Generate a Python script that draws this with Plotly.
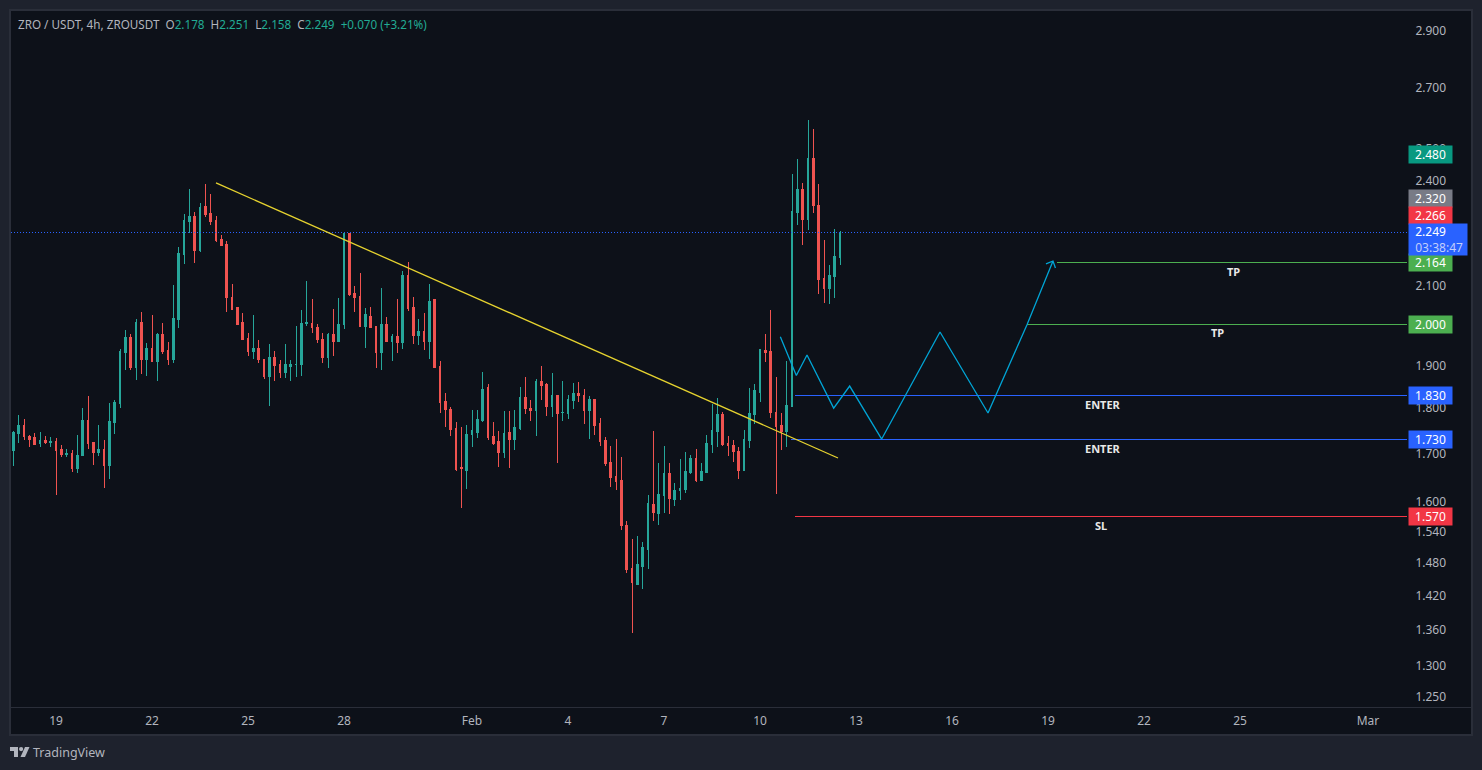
import math
import pandas as pd
import plotly.graph_objects as go

# 4h candles, first one at Jan 17 16:00
first_candle = "2025-01-17 16:00"

opens = [
    1.707, 1.743, 1.762, 1.736, 1.734, 1.721, 1.728, 1.723, 1.725, 1.708,
    1.697, 1.699, 1.667, 1.695, 1.773, 1.723, 1.701, 1.708, 1.675, 1.767,
    1.810, 1.930, 1.968, 1.894, 2.005, 1.915, 1.941, 1.910, 1.975, 1.936,
    1.915, 2.013, 2.187, 2.279, 2.293, 2.198, 2.324, 2.301, 2.282, 2.227,
    2.215, 2.071, 2.043, 2.007, 1.965, 1.933, 1.941, 1.915, 1.873, 1.918,
    1.901, 1.882, 1.898, 1.901, 1.901, 2.004, 2.004, 1.992, 1.964, 1.918,
    1.976, 1.959, 2.000, 2.244, 2.082, 2.074, 1.997, 2.022, 1.995, 1.930,
    2.002, 1.959, 1.971, 1.957, 2.130, 2.043, 1.974, 1.984, 1.959, 2.064,
    1.898, 1.816, 1.798, 1.755, 1.669, 1.663, 1.740, 1.746, 1.773, 1.847,
    1.737, 1.725, 1.701, 1.746, 1.731, 1.755, 1.824, 1.800, 1.794, 1.861,
    1.854, 1.804, 1.828, 1.789, 1.787, 1.817, 1.833, 1.830, 1.795, 1.819,
    1.765, 1.727, 1.681, 1.651, 1.642, 1.552, 1.469, 1.441, 1.474, 1.506,
    1.594, 1.576, 1.612, 1.658, 1.604, 1.621, 1.625, 1.660, 1.690, 1.642,
    1.660, 1.720, 1.747, 1.785, 1.722, 1.718, 1.705, 1.664, 1.727, 1.785,
    1.837, 1.935, 1.933, 1.791, 1.760, 1.747, 1.803, 2.306, 2.373, 2.286,
    2.469, 2.326, 2.121, 2.095, 2.127, 2.178,
]
highs = [
    1.749, 1.785, 1.776, 1.741, 1.745, 1.747, 1.738, 1.736, 1.734, 1.719,
    1.710, 1.708, 1.741, 1.800, 1.828, 1.725, 1.762, 1.728, 1.812, 1.819,
    1.941, 1.988, 1.978, 2.016, 2.033, 1.955, 2.026, 1.980, 2.005, 1.958,
    2.103, 2.207, 2.302, 2.375, 2.307, 2.333, 2.391, 2.360, 2.295, 2.241,
    2.224, 2.106, 2.045, 2.030, 1.980, 2.026, 1.961, 1.915, 1.953, 1.936,
    1.913, 1.952, 1.913, 1.997, 2.038, 2.114, 2.066, 2.002, 1.979, 1.979,
    2.041, 2.069, 2.247, 2.244, 2.101, 2.136, 2.043, 2.046, 1.997, 2.095,
    2.020, 1.976, 2.066, 2.141, 2.166, 2.071, 2.015, 2.030, 2.106, 2.066,
    1.910, 1.835, 1.803, 1.769, 1.757, 1.762, 1.796, 1.796, 1.884, 1.856,
    1.769, 1.749, 1.794, 1.794, 1.796, 1.849, 1.873, 1.819, 1.868, 1.898,
    1.859, 1.882, 1.828, 1.862, 1.830, 1.858, 1.860, 1.844, 1.828, 1.819,
    1.778, 1.736, 1.716, 1.732, 1.692, 1.560, 1.525, 1.531, 1.519, 1.612,
    1.749, 1.679, 1.716, 1.679, 1.637, 1.687, 1.703, 1.696, 1.709, 1.679,
    1.740, 1.810, 1.823, 1.791, 1.738, 1.729, 1.713, 1.751, 1.847, 1.855,
    1.940, 1.977, 2.038, 1.872, 1.789, 1.910, 2.420, 2.467, 2.393, 2.592,
    2.563, 2.390, 2.226, 2.156, 2.259, 2.251,
]
lows = [
    1.673, 1.723, 1.728, 1.714, 1.719, 1.714, 1.721, 1.714, 1.613, 1.693,
    1.693, 1.661, 1.659, 1.695, 1.710, 1.675, 1.695, 1.627, 1.646, 1.743,
    1.800, 1.889, 1.889, 1.865, 1.880, 1.875, 1.908, 1.863, 1.928, 1.901,
    1.905, 1.992, 2.160, 2.246, 2.163, 2.193, 2.293, 2.270, 2.221, 2.210,
    2.033, 2.037, 2.000, 1.961, 1.923, 1.915, 1.905, 1.868, 1.805, 1.863,
    1.871, 1.871, 1.863, 1.872, 1.875, 1.997, 1.979, 1.955, 1.906, 1.894,
    1.923, 1.957, 1.990, 2.074, 2.033, 1.997, 1.942, 1.992, 1.894, 1.889,
    1.957, 1.911, 1.930, 1.940, 2.036, 1.952, 1.949, 1.937, 1.915, 1.894,
    1.789, 1.757, 1.738, 1.663, 1.587, 1.625, 1.714, 1.733, 1.769, 1.729,
    1.718, 1.671, 1.690, 1.669, 1.707, 1.751, 1.787, 1.771, 1.738, 1.819,
    1.782, 1.780, 1.679, 1.770, 1.776, 1.797, 1.814, 1.765, 1.732, 1.740,
    1.716, 1.672, 1.629, 1.623, 1.543, 1.461, 1.355, 1.439, 1.432, 1.469,
    1.561, 1.552, 1.576, 1.574, 1.590, 1.602, 1.617, 1.656, 1.639, 1.642,
    1.658, 1.701, 1.713, 1.716, 1.695, 1.681, 1.646, 1.664, 1.711, 1.765,
    1.813, 1.908, 1.778, 1.614, 1.707, 1.714, 1.803, 2.269, 2.212, 2.254,
    2.303, 2.080, 2.056, 2.054, 2.069, 2.158,
]
closes = [
    1.745, 1.762, 1.736, 1.730, 1.719, 1.728, 1.723, 1.725, 1.706, 1.697,
    1.699, 1.667, 1.695, 1.771, 1.721, 1.701, 1.708, 1.675, 1.769, 1.812,
    1.933, 1.968, 1.894, 2.005, 1.915, 1.941, 1.910, 1.975, 1.933, 1.915,
    2.016, 2.190, 2.282, 2.293, 2.198, 2.321, 2.298, 2.279, 2.224, 2.212,
    2.069, 2.040, 2.002, 1.963, 1.933, 1.941, 1.913, 1.873, 1.918, 1.899,
    1.882, 1.901, 1.903, 1.903, 2.004, 2.007, 1.992, 1.962, 1.920, 1.976,
    1.959, 2.000, 2.244, 2.079, 2.069, 1.997, 2.025, 1.992, 1.930, 2.002,
    1.959, 1.971, 1.957, 2.130, 2.041, 1.974, 1.984, 1.959, 2.061, 1.896,
    1.814, 1.796, 1.753, 1.665, 1.667, 1.742, 1.749, 1.775, 1.844, 1.735,
    1.722, 1.701, 1.744, 1.731, 1.757, 1.824, 1.800, 1.794, 1.861, 1.852,
    1.803, 1.828, 1.787, 1.791, 1.819, 1.833, 1.830, 1.795, 1.819, 1.760,
    1.725, 1.679, 1.649, 1.640, 1.552, 1.467, 1.443, 1.478, 1.510, 1.596,
    1.578, 1.614, 1.658, 1.606, 1.623, 1.627, 1.662, 1.690, 1.642, 1.662,
    1.722, 1.749, 1.785, 1.720, 1.716, 1.705, 1.664, 1.729, 1.787, 1.840,
    1.938, 1.930, 1.789, 1.758, 1.747, 1.806, 2.309, 2.373, 2.286, 2.469,
    2.326, 2.119, 2.095, 2.129, 2.180, 2.249,
]

# drawings on the chart
trend_x = ["2025-01-24 00:00", "2025-02-12 10:30"]
trend_y = [2.393, 1.690]

path_x = ["2025-02-10 15:15", "2025-02-11 03:15", "2025-02-11 11:15", "2025-02-12 07:15",
          "2025-02-12 19:15", "2025-02-13 19:15", "2025-02-15 15:00", "2025-02-17 03:00",
          "2025-02-18 08:15", "2025-02-19 03:45", "2025-02-18 22:30", "2025-02-19 03:45",
          "2025-02-19 05:35"]
path_y = [1.970, 1.876, 1.925, 1.800, 1.851, 1.731, 1.982, 1.789, 2.000, 2.168, 2.160, 2.168, 2.149]

level_prices = [2.164, 2.000, 1.830, 1.730, 1.570]
level_starts = ["2025-02-19 07:00", "2025-02-18 08:00", "2025-02-11 02:00",
                "2025-02-10 23:00", "2025-02-11 02:00"]
level_colors = ["#4caf50", "#4caf50", "#2962ff", "#2962ff", "#f23645"]
level_names = ["TP", "TP", "ENTER", "ENTER", "SL"]
level_name_x = ["2025-02-24 19:00", "2025-02-24 07:00", "2025-02-20 17:00",
                "2025-02-20 17:00", "2025-02-20 16:00"]
level_name_y = [2.139, 1.980, 1.808, 1.710, 1.552]

last_price = 2.249

price_ticks = [2.9, 2.7, 2.5, 2.4, 2.1, 1.9, 1.8, 1.7, 1.6, 1.54, 1.48, 1.42, 1.36, 1.3, 1.25]
date_ticks = ["2025-01-19", "2025-01-22", "2025-01-25", "2025-01-28", "2025-02-01", "2025-02-04",
              "2025-02-07", "2025-02-10", "2025-02-13", "2025-02-16", "2025-02-19", "2025-02-22",
              "2025-02-25", "2025-03-01"]
date_labels = ["19", "22", "25", "28", "Feb", "4", "7", "10", "13", "16", "19", "22", "25", "Mar"]

tag_prices = [2.480, 2.320, 2.266, 2.164, 2.000, 1.830, 1.730, 1.570]
tag_colors = ["#089981", "#787b86", "#f23645", "#4caf50", "#4caf50", "#2962ff", "#2962ff", "#f23645"]
# tags pushed up so they do not sit on top of each other
tag_shifts = [0, 9, 10.5, 0, 0, 0, 0, 0]

# chart colours
UP = "#26a69a"
DOWN = "#ef5350"
PANE = "#0d1119"
PAGE = "#1e222d"
BORDER = "#2a2e39"
TEXT = "#b2b5be"
FONT = "Noto Sans"

WIDTH, HEIGHT = 1482, 770
PANE_L, PANE_R, PANE_T, PANE_B = 11, 1407, 11, 707


def px_x(px):
    return (px - PANE_L) / (PANE_R - PANE_L)


def px_y(py):
    return (PANE_B - py) / (PANE_B - PANE_T)


x_end = "2025-03-02 05:15"
dates = pd.date_range(first_candle, periods=len(opens), freq="4h")

fig = go.Figure()

fig.add_trace(go.Candlestick(
    x=dates, open=opens, high=highs, low=lows, close=closes,
    increasing=dict(line=dict(color=UP, width=1), fillcolor=UP),
    decreasing=dict(line=dict(color=DOWN, width=1), fillcolor=DOWN),
    whiskerwidth=0,
))

fig.add_trace(go.Scatter(x=[dates[0] - pd.Timedelta(hours=2), x_end], y=[last_price, last_price], mode="lines",
                         line=dict(color="#2962ff", width=1, dash="1px,2px")))

for price, start, color in zip(level_prices, level_starts, level_colors):
    fig.add_trace(go.Scatter(x=[start, x_end], y=[price, price], mode="lines",
                             line=dict(color=color, width=1)))

fig.add_trace(go.Scatter(x=trend_x, y=trend_y, mode="lines", line=dict(color="#e6d32f", width=1.3)))
fig.add_trace(go.Scatter(x=path_x, y=path_y, mode="lines", line=dict(color="#00a5d6", width=1.3)))

fig.update_layout(
    width=WIDTH, height=HEIGHT,
    margin=dict(l=PANE_L, r=WIDTH - PANE_R, t=PANE_T, b=HEIGHT - PANE_B, pad=0),
    paper_bgcolor=PAGE, plot_bgcolor=PANE,
    showlegend=False, hovermode=False, boxgap=0.5,
    font=dict(family=FONT, size=12, color=TEXT),
    xaxis=dict(
        type="date", range=[dates[0] - pd.Timedelta(minutes=105), x_end],
        rangeslider=dict(visible=False), showgrid=False, zeroline=False,
        tickmode="array", tickvals=date_ticks, ticktext=date_labels,
        ticks="outside", ticklen=3, tickcolor="rgba(0,0,0,0)", tickangle=0,
        tickfont=dict(family=FONT, size=12, color=TEXT),
    ),
    yaxis=dict(
        type="log", side="right", range=[math.log10(1.2336), math.log10(2.974)],
        showgrid=False, zeroline=False,
        tickmode="array", tickvals=price_ticks, ticktext=[f"{p:.3f}" for p in price_ticks],
        ticks="outside", ticklen=5, tickcolor="rgba(0,0,0,0)",
        tickfont=dict(family=FONT, size=12, color=TEXT),
    ),
)

# frame around the chart, time axis line, TradingView mark
shapes = [
    dict(type="rect", xref="paper", yref="paper", layer="below",
         x0=px_x(10), x1=px_x(1472), y0=px_y(735), y1=px_y(10),
         fillcolor=PANE, line=dict(color=BORDER, width=2)),
    dict(type="line", xref="paper", yref="paper",
         x0=px_x(11), x1=px_x(1472), y0=px_y(707.5), y1=px_y(707.5),
         line=dict(color=BORDER, width=1)),
]
logo_polys = [
    [(10, 747), (18, 747), (18, 757), (14, 757), (14, 751), (10, 751)],
    [(25, 747), (29.5, 747), (25, 757), (20.5, 757)],
]
for poly in logo_polys:
    path = "M" + " L".join(f"{px_x(a):.5f},{px_y(b):.5f}" for a, b in poly) + " Z"
    shapes.append(dict(type="path", xref="paper", yref="paper", path=path, fillcolor=TEXT, line=dict(width=0)))
shapes.append(dict(type="circle", xref="paper", yref="paper",
                   x0=px_x(19), x1=px_x(23.2), y0=px_y(751.2), y1=px_y(747),
                   fillcolor=TEXT, line=dict(width=0)))
fig.update_layout(shapes=shapes)

# header
val = lambda s: f'<span style="color:#22ab94">{s}</span>'
header = ("ZRO / USDT, 4h, ZROUSDT\u00a0\u00a0O" + val("2.178") + "\u00a0\u00a0H" + val("2.251")
          + "\u00a0\u00a0L" + val("2.158") + "\u00a0\u00a0C" + val("2.249")
          + "\u00a0\u00a0" + val("+0.070 (+3.21%)"))
fig.add_annotation(xref="paper", yref="paper", x=px_x(16), y=px_y(24), text=header, showarrow=False,
                   xanchor="left", yanchor="middle", font=dict(family=FONT, size=11.7, color=TEXT))

# price tags on the axis
for price, color, shift in zip(tag_prices, tag_colors, tag_shifts):
    fig.add_annotation(xref="paper", yref="y", x=px_x(1408), y=math.log10(price), text=f"{price:.3f}",
                       showarrow=False, xanchor="left", yanchor="middle", width=43, height=17, yshift=shift,
                       bgcolor=color, borderpad=0, font=dict(family=FONT, size=12, color="#ffffff"))

fig.add_annotation(xref="paper", yref="paper", x=px_x(1408), y=px_y(239.5),
                   text='\u00a0\u00a02.249<br>\u00a0\u00a0<span style="color:#c3cffb">03:38:47</span>',
                   showarrow=False, xanchor="left", yanchor="middle", width=58, height=31, align="left",
                   bgcolor="#2962ff", borderpad=0, font=dict(family=FONT, size=12, color="#ffffff"))

# level names
for name, nx, ny in zip(level_names, level_name_x, level_name_y):
    fig.add_annotation(x=nx, y=math.log10(ny), text=f"<b>{name}</b>", showarrow=False,
                       font=dict(family=FONT, size=11, color="#e8e8e8"))

fig.add_annotation(xref="paper", yref="paper", x=px_x(31), y=px_y(752.5), text="TradingView", showarrow=False,
                   xanchor="left", yanchor="middle", font=dict(family=FONT, size=12.5, color=TEXT))

# crisp candles and horizontal levels, like the canvas in the original
crisp_css = (".boxlayer path{shape-rendering:crispEdges}"
             ".scatterlayer .trace:nth-child(-n+6) .js-line{shape-rendering:crispEdges}")
fig.write_html("out.html", config=dict(displayModeBar=False),
               post_script="document.body.style.margin='0';document.body.style.overflow='hidden';"
                           "var s=document.createElement('style');s.textContent='" + crisp_css + "';"
                           "document.head.appendChild(s);")
